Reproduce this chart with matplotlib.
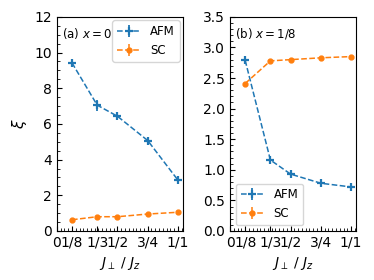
import matplotlib
matplotlib.use("Agg")
import matplotlib.pyplot as plt
from matplotlib.ticker import AutoMinorLocator

# J_perp / J_z values
jr = [1/8, 1/3, 1/2, 3/4, 1.0]
xticks = [0, 1/8, 1/3, 1/2, 3/4, 1.0]
xlabels = ["0", "1/8", "1/3", "1/2", "3/4", "1/1"]

# panel (a): x = 0
afm_a = [9.42, 7.05, 6.43, 5.07, 2.85]
afm_a_err = [0.2, 0.3, 0.15, 0.15, 0.15]
sc_a = [0.63, 0.80, 0.80, 0.95, 1.05]
sc_a_err = [0.05, 0.05, 0.05, 0.05, 0.05]

# panel (b): x = 1/8
afm_b = [2.79, 1.16, 0.93, 0.78, 0.72]
afm_b_err = [0.05, 0.04, 0.03, 0.03, 0.03]
sc_b = [2.41, 2.78, 2.80, 2.83, 2.85]
sc_b_err = [0.02, 0.02, 0.02, 0.02, 0.02]

fig, (ax1, ax2) = plt.subplots(1, 2, figsize=(3.74, 2.8), dpi=100)
fig.subplots_adjust(left=0.152, right=0.953, bottom=0.175, top=0.94, wspace=0.37)


def panel(ax, afm, afm_err, sc, sc_err):
    ax.errorbar(jr, afm, yerr=afm_err, fmt="--+", color="C0", ms=6, mew=1.6, lw=1.1, elinewidth=1.3, label="AFM")
    ax.errorbar(jr, sc, yerr=sc_err, fmt="--o", color="C1", ms=3.5, lw=1.1, label="SC")
    ax.set_xticks(xticks)
    ax.set_xticklabels(xlabels)
    ax.set_xlim(0, 1.04375)
    ax.xaxis.set_minor_locator(AutoMinorLocator())
    ax.yaxis.set_minor_locator(AutoMinorLocator())
    ax.tick_params(which="both", direction="in", labelsize=10)
    ax.set_xlabel(r"$J_\perp$ / $J_z$", fontsize=10)


panel(ax1, afm_a, afm_a_err, sc_a, sc_a_err)
ax1.set_ylim(0, 12)
ax1.set_ylabel(r"$\xi$", fontsize=11)
ax1.text(0.04, 0.955, r"(a) $x=0$", transform=ax1.transAxes, va="top", fontsize=8.5)
ax1.legend(loc="upper right", fontsize=8.5, handlelength=2.0, borderaxespad=0.3)

panel(ax2, afm_b, afm_b_err, sc_b, sc_b_err)
ax2.set_ylim(0, 3.5)
ax2.text(0.04, 0.955, r"(b) $x=1/8$", transform=ax2.transAxes, va="top", fontsize=8.5)
ax2.legend(loc="lower left", fontsize=8.5, handlelength=2.0)

plt.savefig("out.png", dpi=100)
